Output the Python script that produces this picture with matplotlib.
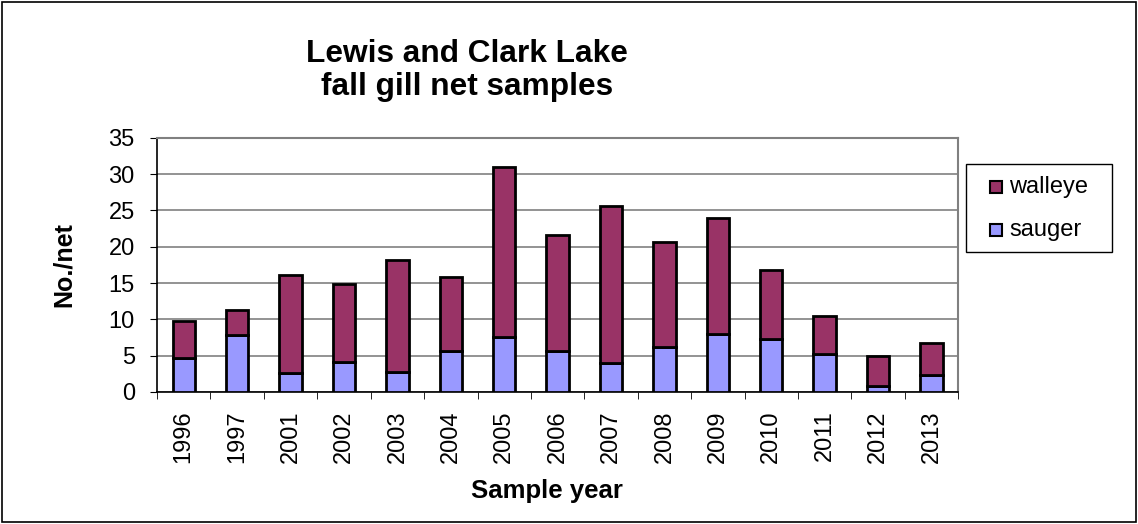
import matplotlib.pyplot as plt
import matplotlib.patches as mpatches
import numpy as np

plt.rcParams['font.family'] = ['Liberation Sans', 'DejaVu Sans']

# data
years = ['1996', '1997', '2001', '2002', '2003', '2004', '2005', '2006',
         '2007', '2008', '2009', '2010', '2011', '2012', '2013']
sauger = [4.7, 7.8, 2.6, 4.1, 2.75, 5.6, 7.5, 5.6, 4.0, 6.2, 8.0, 7.3, 5.2, 0.8, 2.3]
total = [9.8, 11.25, 16.1, 14.8, 18.2, 15.8, 31.0, 21.6, 25.6, 20.7, 24.0, 16.8, 10.4, 4.9, 6.75]
walleye = [t - s for t, s in zip(total, sauger)]

walleye_col = '#993366'
sauger_col = '#9999FF'

W, H = 1138, 524
fig = plt.figure(figsize=(W / 100, H / 100), dpi=100)

def fx(px):
    return px / W

def fy(py):
    return 1 - py / H

# outer chart border
fig.patches.append(mpatches.Rectangle((0.002, 0.003), 0.996, 0.994, transform=fig.transFigure,
                                      fill=False, edgecolor='black', linewidth=1.2))

ax = fig.add_axes([0.138, 0.252, 0.704, 0.485])
x = np.arange(len(years))
ax.bar(x, sauger, width=0.42, color=sauger_col, edgecolor='black', linewidth=2, zorder=3)
ax.bar(x, walleye, bottom=sauger, width=0.42, color=walleye_col, edgecolor='black', linewidth=2, zorder=3)

ax.set_xlim(-0.5, len(years) - 0.5)
ax.set_ylim(0, 35)
ax.set_yticks(range(0, 36, 5))
ax.set_xticks(x)
ax.set_xticklabels(years, rotation=90, fontsize=17)
ax.set_xticks(np.arange(-0.5, len(years), 1), minor=True)
ax.tick_params(axis='x', which='major', length=0, pad=13)
ax.tick_params(axis='x', which='minor', length=5, direction='out', color='black')
ax.tick_params(axis='y', labelsize=17, length=5, direction='out', pad=11)
ax.grid(axis='y', color='#808080', linewidth=1.2, zorder=0)

ax.spines['left'].set_linewidth(1.2)
ax.spines['bottom'].set_linewidth(1.2)
ax.spines['top'].set_color('#808080')
ax.spines['right'].set_color('#808080')
ax.spines['top'].set_linewidth(1.5)
ax.spines['right'].set_linewidth(1.5)

fig.text(fx(64), fy(265), 'No./net', rotation=90, ha='center', va='center',
         fontsize=18, fontweight='bold')
fig.text(fx(547), fy(498), 'Sample year', ha='center', va='baseline',
         fontsize=18.5, fontweight='bold')

# title, two lines
fig.text(fx(467), fy(62), 'Lewis and Clark Lake', ha='center', va='baseline',
         fontsize=22.8, fontweight='bold')
fig.text(fx(467), fy(95), 'fall gill net samples', ha='center', va='baseline',
         fontsize=22.8, fontweight='bold')

# legend box drawn by hand to match the Excel layout
fig.patches.append(mpatches.Rectangle((fx(966), fy(252)), fx(1112) - fx(966), fy(164) - fy(252),
                                      transform=fig.transFigure, fill=False,
                                      edgecolor='black', linewidth=1.0))
leg_labels = ['walleye', 'sauger']
leg_colors = [walleye_col, sauger_col]
leg_rows = [187, 230]
for lab, col, row in zip(leg_labels, leg_colors, leg_rows):
    fig.patches.append(mpatches.Rectangle((fx(990), fy(row + 6)), fx(12), 12 / H,
                                          transform=fig.transFigure, facecolor=col,
                                          edgecolor='black', linewidth=1.5))
    fig.text(fx(1009), fy(row), lab, ha='left', va='center', fontsize=17)

fig.savefig('out.png', dpi=100)
